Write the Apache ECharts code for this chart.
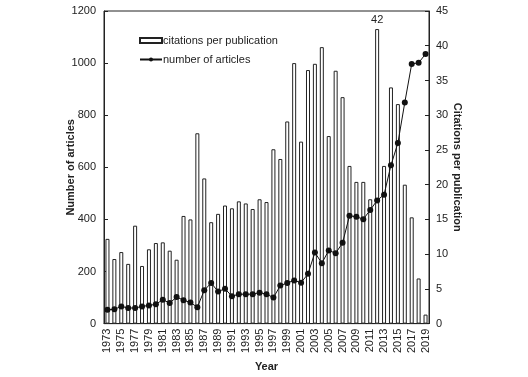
<!DOCTYPE html>
<html><head><meta charset="utf-8">
<script src="https://cdn.jsdelivr.net/npm/echarts@6/dist/echarts.min.js"></script>
<style>html,body{margin:0;padding:0;background:#fff}#c{width:528px;height:377px}</style>
</head><body><div id="c"></div>
<script>
const years = [];
for (let y = 1973; y <= 2019; y++) years.push(String(y));
const citationsPerPublication = [12.2,9.3,10.3,8.6,14.1,8.3,10.7,11.6,11.7,10.5,9.2,15.5,15.0,27.4,20.9,14.6,15.8,17.0,16.6,17.6,17.3,16.5,17.9,17.5,25.1,23.7,29.1,37.5,26.2,36.5,37.4,39.8,27.0,36.4,32.6,22.7,20.4,20.4,17.9,42.4,22.7,34.0,31.6,20.0,15.3,6.5,1.3];
const numberOfArticles = [53,55,66,60,60,66,70,74,92,79,102,90,81,63,128,156,123,134,105,113,113,113,119,113,100,146,156,166,157,191,273,232,281,270,310,414,410,401,436,473,495,608,693,849,997,1001,1035];
const leftTicks = [0,200,400,600,800,1000,1200];
const rightTicks = [0,5,10,15,20,25,30,35,40,45];
const labelledYear = '2012';
const labelledText = '42';

const font = 'Liberation Sans, Arial, sans-serif';
const txt = '#222';
const chart = echarts.init(document.getElementById('c'));
chart.setOption({
  animation: false,
  textStyle: {fontFamily: font, color: txt},
  grid: {left: 104, right: 99, top: 11, bottom: 47, show: true, borderColor: '#222', borderWidth: 1, backgroundColor: 'transparent'},
  legend: {
    orient: 'vertical', left: 134, top: 30, itemGap: 8, itemWidth: 22, itemHeight: 5,
    textStyle: {fontFamily: font, fontSize: 11, color: txt, padding: [0,0,0,-4]},
    data: [{name: 'citations per publication', icon: 'rect'}, {name: 'number of articles'}]
  },
  xAxis: {
    type: 'category', data: years, boundaryGap: true,
    name: 'Year', nameLocation: 'middle', nameGap: 30,
    nameTextStyle: {fontWeight: 'bold', fontSize: 11, color: txt, fontFamily: font},
    axisLine: {lineStyle: {color: '#222', width: 1}},
    axisTick: {show: false},
    axisLabel: {rotate: 90, interval: 1, fontSize: 11, color: txt, fontFamily: font, margin: 5}
  },
  yAxis: [{
    type: 'value', min: leftTicks[0], max: leftTicks[leftTicks.length-1], interval: leftTicks[1]-leftTicks[0],
    name: 'Number of articles', nameLocation: 'middle', nameGap: 28, nameRotate: 90, nameMoveOverlap: false,
    nameTextStyle: {fontWeight: 'bold', fontSize: 11, color: txt, fontFamily: font},
    axisLine: {show: true, lineStyle: {color: '#222', width: 1}},
    axisTick: {show: true, inside: true, length: 4, lineStyle: {color: '#222'}},
    axisLabel: {fontSize: 11, color: txt, fontFamily: font, margin: 8, formatter: v => String(v)},
    splitLine: {show: false}
  }, {
    type: 'value', min: rightTicks[0], max: rightTicks[rightTicks.length-1], interval: rightTicks[1]-rightTicks[0],
    position: 'right',
    name: 'Citations per publication', nameLocation: 'middle', nameGap: 23, nameRotate: -90, nameMoveOverlap: false,
    nameTextStyle: {fontWeight: 'bold', fontSize: 11, color: txt, fontFamily: font},
    axisLine: {show: true, lineStyle: {color: '#222', width: 1}},
    axisTick: {show: true, inside: true, length: 4, lineStyle: {color: '#222'}},
    axisLabel: {fontSize: 11, color: txt, fontFamily: font, margin: 7},
    splitLine: {show: false}
  }],
  series: [{
    name: 'citations per publication', type: 'bar', yAxisIndex: 1, barWidth: 4,
    itemStyle: {color: '#fff', borderColor: '#222', borderWidth: 1},
    data: citationsPerPublication.map((v, i) => years[i] === labelledYear
      ? {value: v, label: {show: true, position: 'top', formatter: labelledText, fontSize: 11, color: txt, fontFamily: font, distance: 4}}
      : v),
    z: 1
  }, {
    name: 'number of articles', type: 'line', yAxisIndex: 0,
    data: numberOfArticles, symbol: 'circle', symbolSize: 6, showSymbol: true, showAllSymbol: true,
    lineStyle: {color: '#111', width: 1}, itemStyle: {color: '#111'},
    z: 3
  }]
});
</script></body></html>
